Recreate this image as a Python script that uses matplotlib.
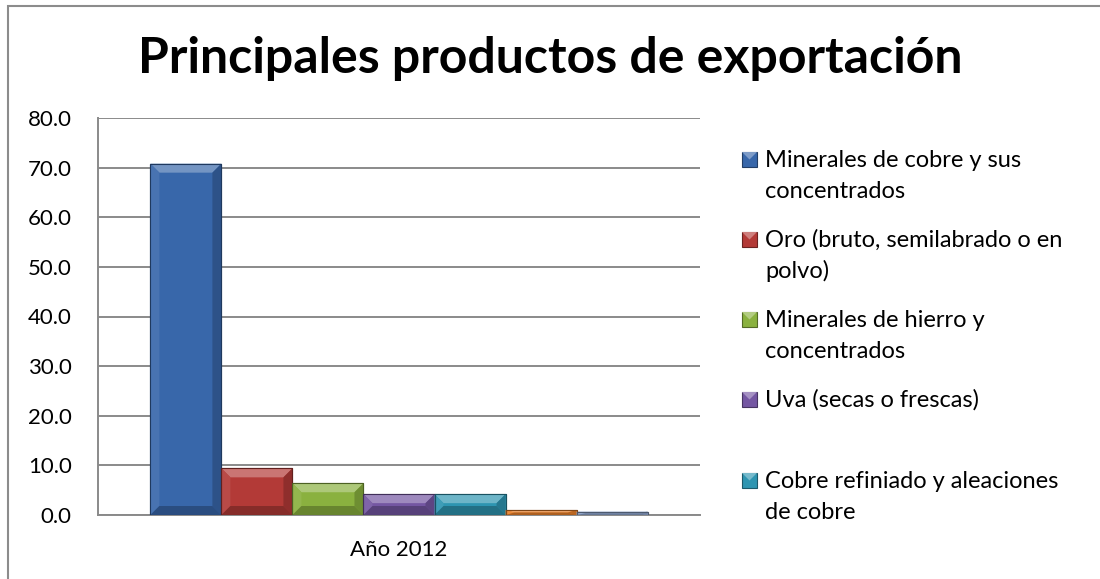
import matplotlib
matplotlib.use("Agg")
import matplotlib.pyplot as plt
from matplotlib.patches import Rectangle, Polygon
import matplotlib.colors as mcolors

plt.rcParams['font.family'] = ['Lato', 'DejaVu Sans']

titulo = 'Principales productos de exportación'
anio = 'Año 2012'
productos = ['Minerales de cobre y sus\nconcentrados',
             'Oro (bruto, semilabrado o en\npolvo)',
             'Minerales de hierro y\nconcentrados',
             'Uva (secas o frescas)',
             'Cobre refiniado y aleaciones\nde cobre',
             'Otros 1',
             'Otros 2']
valores = [70.8, 9.4, 6.4, 4.2, 4.2, 1.0, 0.7]
colores = ['#3867AA', '#B33A37', '#8AB13F', '#7456A2', '#2E95B1', '#E8802A', '#8CA3CA']
yticks = [0, 10, 20, 30, 40, 50, 60, 70, 80]

W, H = 1100, 579
fig = plt.figure(figsize=(W / 100, H / 100), dpi=100)

# outer chart frame (runs past the right and bottom edges)
fig.patches.append(Rectangle((8 / W, -0.05), 1.1, 1 - 6 / H + 0.05,
                             transform=fig.transFigure, fill=False,
                             edgecolor='#8c8c8c', lw=1.5))

ax = fig.add_axes([98 / W, 64 / H, 602 / W, 397 / H])
ax.set_xlim(-0.5, 0.5)
ax.set_ylim(0, 80)

bw = 0.118
n = len(valores)


def shade(c, f):
    r, g, b = mcolors.to_rgb(c)
    if f > 0:
        return (r + (1 - r) * f, g + (1 - g) * f, b + (1 - b) * f)
    return (r * (1 + f), g * (1 + f), b * (1 + f))


# px -> data units for the bevel
dx_px = 1.0 / 602
dy_px = 80.0 / 397
for i, (v, c) in enumerate(zip(valores, colores)):
    x0 = (i - n / 2) * bw
    ax.bar(x0, v, width=bw, align='edge', color=c,
           edgecolor=shade(c, -0.45), linewidth=0.8, zorder=3)
    bx = min(9 * dx_px, bw / 2)
    by = min(9 * dy_px, v / 2)
    x1 = x0 + bw
    # top face, lighter
    ax.add_patch(Polygon([(x0, v), (x1, v), (x1 - bx, v - by), (x0 + bx, v - by)],
                         closed=True, color=shade(c, 0.3), lw=0, zorder=4))
    # left face
    ax.add_patch(Polygon([(x0, v), (x0 + bx, v - by), (x0 + bx, by), (x0, 0)],
                         closed=True, color=shade(c, 0.08), lw=0, zorder=4))
    # right face, darker
    ax.add_patch(Polygon([(x1, v), (x1 - bx, v - by), (x1 - bx, by), (x1, 0)],
                         closed=True, color=shade(c, -0.2), lw=0, zorder=4))
    # bottom face
    ax.add_patch(Polygon([(x0, 0), (x1, 0), (x1 - bx, by), (x0 + bx, by)],
                         closed=True, color=shade(c, -0.25), lw=0, zorder=4))
    ax.add_patch(Rectangle((x0, 0), bw, v, fill=False,
                           edgecolor=shade(c, -0.45), lw=0.8, zorder=5))

ax.set_yticks(yticks)
ax.set_yticklabels([f'{t:.1f}' for t in yticks], fontsize=16)
ax.set_xticks([0])
ax.set_xticklabels([anio], fontsize=16)
ax.tick_params(axis='y', length=0, pad=19)
ax.tick_params(axis='x', length=0, pad=18)
ax.yaxis.grid(True, color='#8a8a8a', lw=1.4, zorder=1)
ax.set_axisbelow(True)
for s in ['top', 'right']:
    ax.spines[s].set_visible(False)
for s in ['left', 'bottom']:
    ax.spines[s].set_color('#8a8a8a')
    ax.spines[s].set_linewidth(1.4)

fig.text(0.5, 1 - 73 / H, titulo, ha='center', va='baseline',
         fontsize=36, fontweight='bold')

# legend, only the first five entries fit in the chart box
baselines = [167, 247, 327, 407, 488]
for lab, c, yb in zip(productos[:5], colores[:5], baselines):
    mx, my, ms = 742, yb, 15
    fig.patches.append(Rectangle((mx / W, 1 - my / H), ms / W, ms / H,
                                 transform=fig.transFigure, facecolor=c,
                                 edgecolor=shade(c, -0.4), lw=0.8))
    # lighter top of the marker
    fig.patches.append(Polygon([(mx / W, 1 - (my - ms) / H),
                                ((mx + ms) / W, 1 - (my - ms) / H),
                                ((mx + ms / 2) / W, 1 - (my - ms / 2) / H)],
                               closed=True, transform=fig.transFigure,
                               facecolor=shade(c, 0.35), lw=0))
    for k, line in enumerate(lab.split('\n')):
        fig.text(765 / W, 1 - (yb + 31 * k) / H, line, ha='left',
                 va='baseline', fontsize=17)

fig.savefig('out.png', dpi=100)
